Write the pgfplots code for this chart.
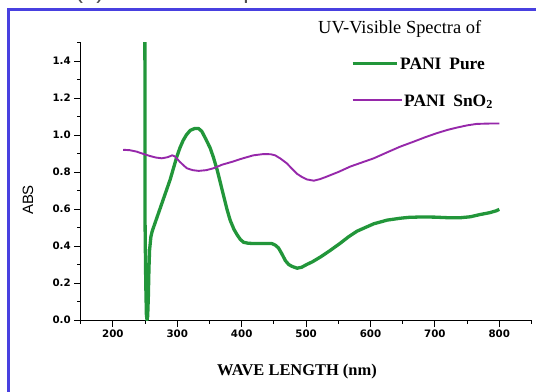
\documentclass[border=0pt]{standalone}
\usepackage{fontspec}
\setmainfont{Liberation Serif}
\newfontfamily\tickfont{DejaVu Sans}
\newfontfamily\arialfont{Liberation Sans}
\usepackage{pgfplots}
\pgfplotsset{compat=1.18}
\definecolor{pgreen}{RGB}{34,150,58}
\definecolor{ppurple}{RGB}{150,40,170}
\definecolor{frameblue}{RGB}{72,64,224}
\begin{document}
\begin{tikzpicture}[x=1bp,y=1bp]
\useasboundingbox (0,0) rectangle (536,391);
\clip (0,0) rectangle (536,391);
\coordinate (O) at (80.7,71);
\node[anchor=base west, inner sep=0, text=black!70, font=\arialfont\fontsize{24}{24}\selectfont] at (75,392.3) {(a) UV-Visible Spectra of PANI Pure and PANI SnO\textsubscript{2}};
\draw[frameblue, line width=3.4bp] (8.7,381.7) rectangle (580,-30);
\begin{axis}[
  at={(O)}, anchor=south west,
  scale only axis, width=450.8bp, height=277.5bp,
  xmin=150, xmax=850, ymin=0, ymax=1.5,
  axis lines*=left,
  axis line style={-, line width=1bp, black},
  tick align=outside,
  major tick length=6.5bp, minor tick length=3.5bp,
  every tick/.style={black, line width=0.9bp},
  xtick={200,300,400,500,600,700,800},
  minor xtick={150,250,350,450,550,650,750,850},
  ytick={0,0.2,0.4,0.6,0.8,1.0,1.2,1.4},
  minor ytick={0.1,0.3,0.5,0.7,0.9,1.1,1.3,1.5},
  yticklabel style={/pgf/number format/.cd, fixed, fixed zerofill, precision=1},
  /pgf/number format/assume math mode=true,
  ticklabel style={font=\tickfont\bfseries\fontsize{10.3}{10.3}\selectfont},
  clip=true,
]
\addplot[pgreen, line width=3.3bp, line join=round] coordinates {
(249.6,1.65) (250,0.5) (251,0.2) (252,0.03) (253,0.0) (254,0.02) (255,0.12) (256,0.28) (257,0.38)
(259,0.45) (261,0.48) (265,0.52) (268,0.55) (273,0.60) (278,0.65) (284,0.71) (289,0.76)
(294,0.82) (299,0.88) (304,0.93) (309,0.97) (314,1.00) (320,1.025) (327,1.035) (333,1.035)
(338,1.02) (344,0.98) (351,0.93) (356,0.88) (362,0.81) (367,0.74) (372,0.67) (377,0.60)
(382,0.54) (388,0.49) (393,0.46) (398,0.435) (403,0.42) (410,0.415) (420,0.413) (435,0.413)
(447,0.413) (452,0.405) (457,0.39) (462,0.36) (468,0.32) (473,0.30) (478,0.29) (486,0.28)
(493,0.285) (501,0.30) (510,0.315) (522,0.34) (537,0.375) (553,0.415) (566,0.45) (579,0.48)
(592,0.50) (605,0.52) (626,0.54) (646,0.55) (660,0.555) (680,0.557) (700,0.556) (720,0.553)
(740,0.553) (755,0.558) (770,0.57) (785,0.58) (795,0.59) (800,0.598)
};
\addplot[ppurple, line width=1.9bp, line join=round] coordinates {
(216,0.92) (226,0.918) (237,0.91) (247,0.898) (258,0.886) (267,0.878) (276,0.874) (285,0.88)
(292,0.89) (296,0.885) (304,0.855) (310,0.835) (315,0.82) (324,0.81) (333,0.806) (345,0.81)
(356,0.82) (370,0.84) (387,0.857) (400,0.872) (418,0.89) (434,0.897) (445,0.896) (452,0.89)
(460,0.873) (470,0.847) (478,0.818) (486,0.79) (494,0.772) (501,0.76) (512,0.753) (522,0.762)
(532,0.775) (550,0.80) (569,0.83) (587,0.852) (605,0.874) (625,0.905) (646,0.937) (667,0.964)
(685,0.988) (703,1.01) (720,1.028) (734,1.04) (750,1.052) (765,1.06) (785,1.062) (800,1.062)
};
\end{axis}
\node[rotate=90, font=\arialfont\fontsize{15}{15}\selectfont] at (28,191) {ABS};
\node[font=\bfseries\fontsize{16.5}{16.5}\selectfont] at (297,19) {WAVE LENGTH (nm)};
\node[anchor=base west, inner sep=0, font=\fontsize{18.5}{18.5}\selectfont] at (318,358) {UV-Visible Spectra of};
\draw[pgreen, line width=3.3bp] (352.7,327.7) -- (396.7,327.7);
\node[anchor=base west, inner sep=0, font=\bfseries\fontsize{17.5}{17.5}\selectfont] at (400,322) {PANI\hspace{0.45em}Pure};
\draw[ppurple, line width=1.9bp] (352.7,291) -- (401.7,291);
\node[anchor=base west, inner sep=0, font=\bfseries\fontsize{17.5}{17.5}\selectfont] at (404,285) {PANI\hspace{0.45em}SnO\textsubscript{2}};
\end{tikzpicture}
\end{document}
